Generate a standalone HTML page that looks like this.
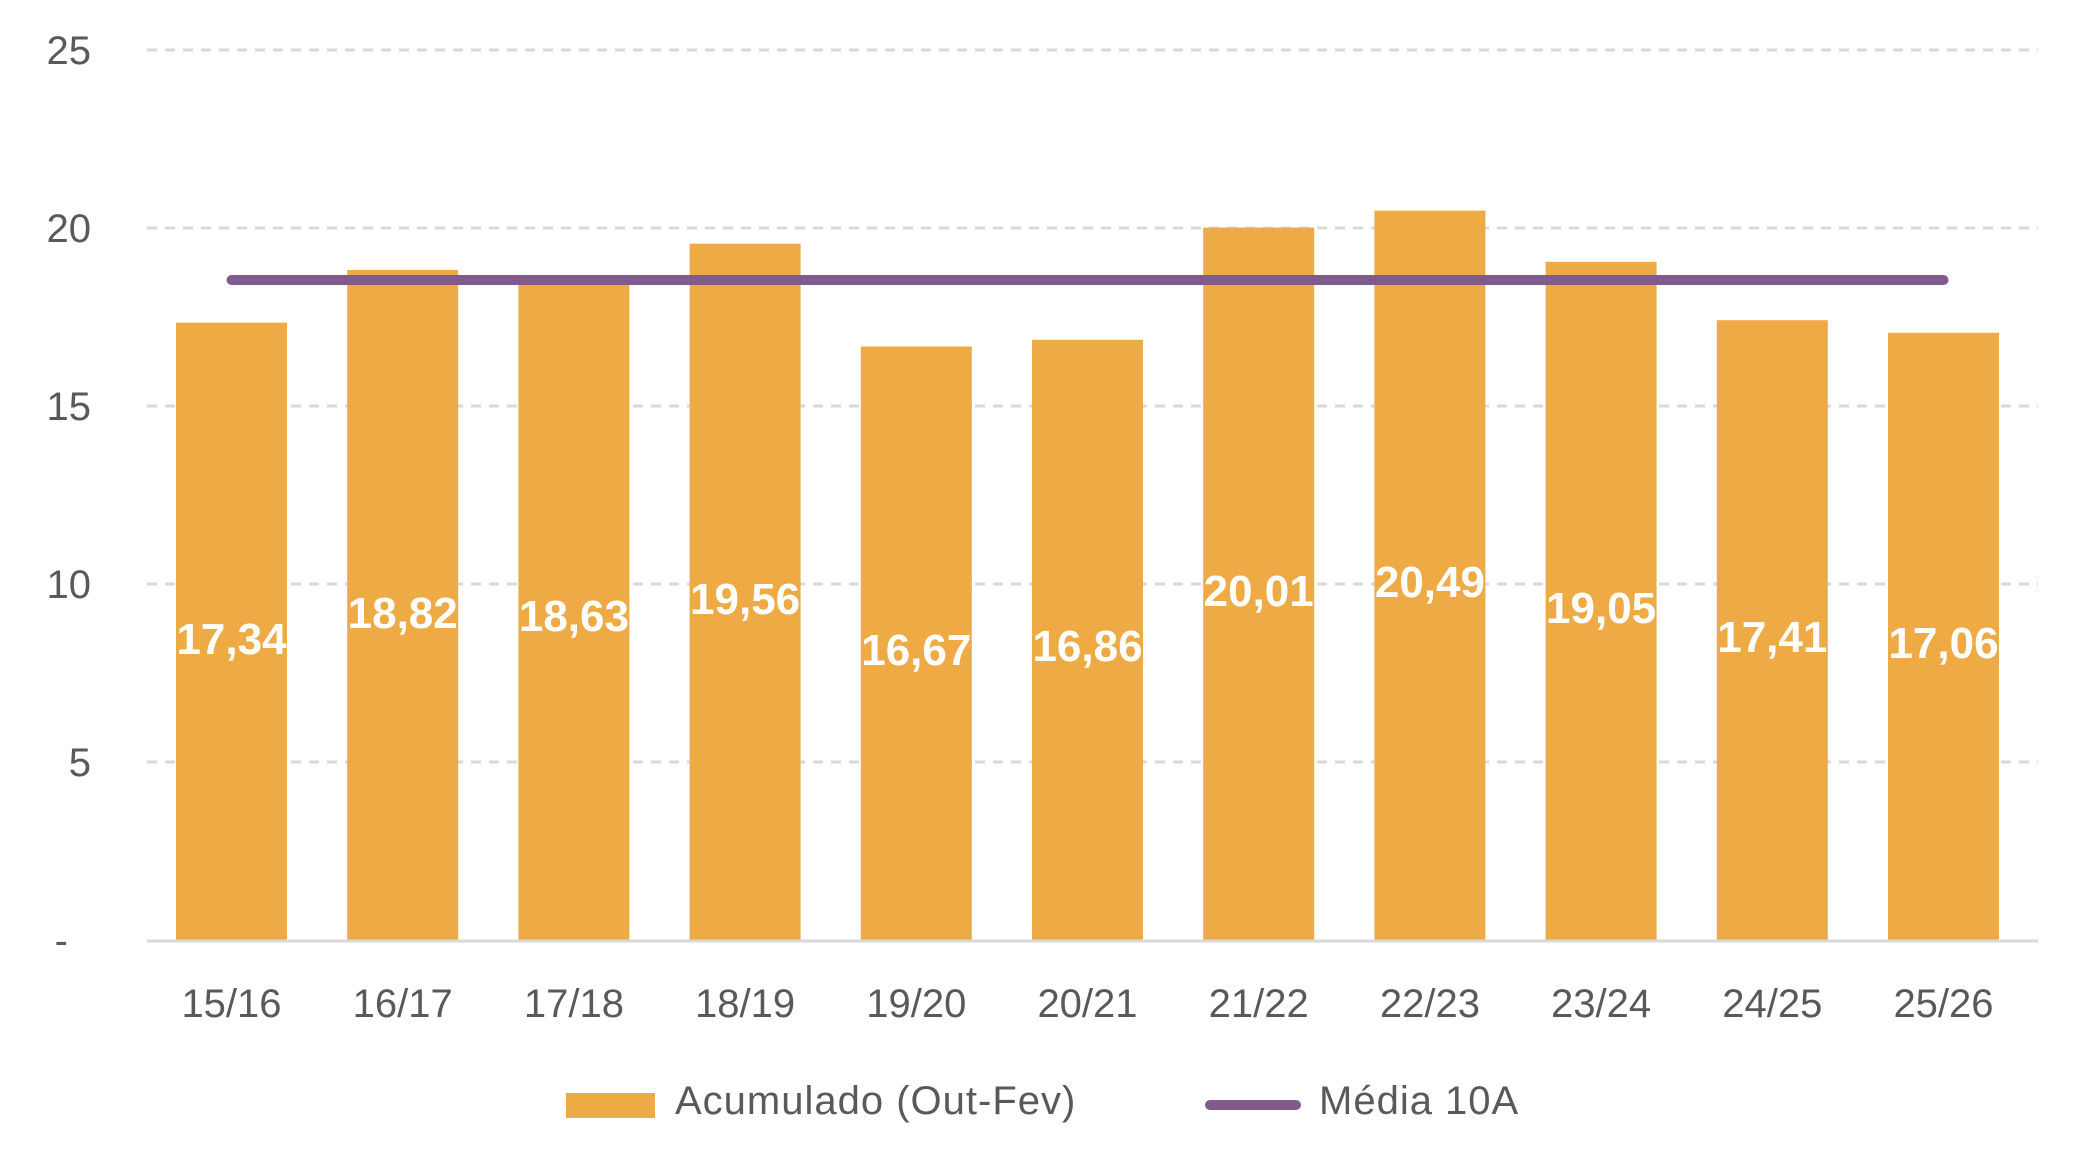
<!DOCTYPE html>
<html><head><meta charset="utf-8"><style>
html,body{margin:0;padding:0;background:#fff;}
svg{display:block;}
text{font-family:"Liberation Sans",sans-serif;}
</style></head><body>
<svg width="2079" height="1169" viewBox="0 0 2079 1169" xmlns="http://www.w3.org/2000/svg">
<g stroke="#d9d9d9" stroke-width="3" stroke-dasharray="10,8">
<line x1="147" y1="50" x2="2038" y2="50"/>
<line x1="147" y1="228" x2="2038" y2="228"/>
<line x1="147" y1="406" x2="2038" y2="406"/>
<line x1="147" y1="584" x2="2038" y2="584"/>
<line x1="147" y1="762" x2="2038" y2="762"/>
</g>
<g fill="#595959" font-size="40" text-anchor="end">
<text x="91" y="64">25</text>
<text x="91" y="242">20</text>
<text x="91" y="420">15</text>
<text x="91" y="598">10</text>
<text x="91" y="776">5</text>
<text x="68" y="954">-</text>
</g>
<g fill="#eeaa45">
<rect x="176" y="322.7" width="111" height="617.3"/>
<rect x="347.2" y="270" width="111" height="670"/>
<rect x="518.4" y="276.8" width="111" height="663.2"/>
<rect x="689.6" y="243.7" width="111" height="696.3"/>
<rect x="860.8" y="346.5" width="111" height="593.5"/>
<rect x="1032" y="339.8" width="111" height="600.2"/>
<rect x="1203.2" y="227.6" width="111" height="712.4"/>
<rect x="1374.4" y="210.6" width="111" height="729.4"/>
<rect x="1545.6" y="261.8" width="111" height="678.2"/>
<rect x="1716.8" y="320.2" width="111" height="619.8"/>
<rect x="1888" y="332.7" width="111" height="607.3"/>
</g>
<line x1="147" y1="941" x2="2038" y2="941" stroke="#d9d9d9" stroke-width="3"/>
<line x1="231.5" y1="280" x2="1943.5" y2="280" stroke="#7f5a8c" stroke-width="10" stroke-linecap="round"/>
<g fill="#fff" font-size="44" font-weight="bold" text-anchor="middle">
<text x="231.5" y="654">17,34</text>
<text x="402.7" y="628">18,82</text>
<text x="573.9" y="631">18,63</text>
<text x="745.1" y="614">19,56</text>
<text x="916.3" y="665">16,67</text>
<text x="1087.5" y="661">16,86</text>
<text x="1258.7" y="606">20,01</text>
<text x="1429.9" y="597">20,49</text>
<text x="1601.1" y="623">19,05</text>
<text x="1772.3" y="652">17,41</text>
<text x="1943.5" y="658">17,06</text>
</g>
<g fill="#595959" font-size="40" text-anchor="middle">
<text x="231.5" y="1017">15/16</text>
<text x="402.7" y="1017">16/17</text>
<text x="573.9" y="1017">17/18</text>
<text x="745.1" y="1017">18/19</text>
<text x="916.3" y="1017">19/20</text>
<text x="1087.5" y="1017">20/21</text>
<text x="1258.7" y="1017">21/22</text>
<text x="1429.9" y="1017">22/23</text>
<text x="1601.1" y="1017">23/24</text>
<text x="1772.3" y="1017">24/25</text>
<text x="1943.5" y="1017">25/26</text>
</g>
<rect x="566" y="1093" width="89" height="25" fill="#eeaa45"/>
<text x="675" y="1114" fill="#595959" font-size="40" letter-spacing="1">Acumulado (Out-Fev)</text>
<line x1="1210" y1="1105" x2="1296" y2="1105" stroke="#7f5a8c" stroke-width="10" stroke-linecap="round"/>
<text x="1319" y="1114" fill="#595959" font-size="40" letter-spacing="1">Média 10A</text>
</svg>
</body></html>
